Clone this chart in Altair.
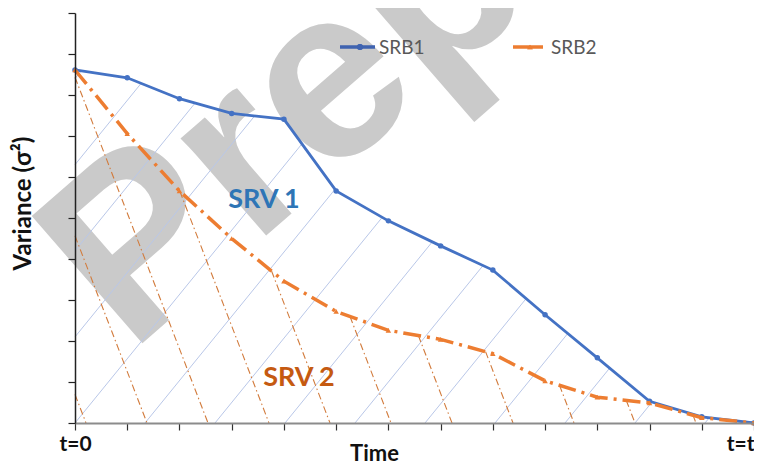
import numpy as np
import pandas as pd
import altair as alt

# ---- data ----
times = list(range(14))
srb1 = [8.61, 8.42, 7.91, 7.55, 7.41, 5.66, 4.93, 4.32, 3.73, 2.64, 1.59, 0.53, 0.15, 0.0]
srb2 = [8.61, 7.06, 5.66, 4.50, 3.46, 2.72, 2.26, 2.04, 1.69, 1.03, 0.63, 0.49, 0.13, 0.0]
series_names = ["SRB1", "SRB2"]
x_labels = {0: "t=0", 13: "t=t"}
region_labels = ["SRV 1", "SRV 2"]
y_title = "Variance (σ²)"
x_title = "Time"
watermark = ["Preprints"]

BLUE = "#4472C4"
ORANGE = "#ED7D31"
FONT = "Lato"

W, H = 679, 410
XMAX, YMAX = 13, 10
pxx = W / XMAX
pxy = H / YMAX

t = np.array(times, dtype=float)
f1 = np.array(srb1)
f2 = np.array(srb2)

# ---- hatch segments derived from the curves ----
def blue_hatch(spacing_px=70.0, slope_px=1.23):
    m = slope_px * pxx / pxy
    s = spacing_px / pxx
    rows = []
    for c in np.arange(-8 * s, XMAX, s):
        x0 = max(c, 0.0)
        y0 = m * (x0 - c)
        if y0 >= np.interp(x0, t, f1):
            continue
        xs = np.linspace(x0, XMAX, 6000)
        d = m * (xs - c) - np.interp(xs, t, f1)
        idx = np.argmax(d >= 0)
        x1 = xs[idx]
        rows.append(dict(x=x0, y=y0, x2=x1, y2=m * (x1 - c)))
    return pd.DataFrame(rows)

def orange_hatch(spacing_px=61.0, slope_px=2.6, first_px=11.0):
    m = slope_px * pxx / pxy
    s = spacing_px / pxx
    rows = []
    for c in np.arange(first_px / pxx, XMAX, s):
        if np.interp(c, t, f2) <= 0.02:
            continue
        xs = np.linspace(c, 0, 6000)
        d = m * (c - xs) - np.interp(xs, t, f2)
        if np.any(d >= 0):
            idx = np.argmax(d >= 0)
            x0 = xs[idx]
        else:
            x0 = 0.0
        rows.append(dict(x=x0, y=m * (c - x0), x2=c, y2=0.0))
    return pd.DataFrame(rows)

hb = blue_hatch()
ho = orange_hatch()

df = pd.DataFrame({"t": times, "SRB1": srb1, "SRB2": srb2})

xscale = alt.Scale(domain=[0, XMAX], nice=False, zero=False)
yscale = alt.Scale(domain=[0, YMAX], nice=False)

label_expr = " : ".join([f"datum.value == {k} ? '{v}'" for k, v in x_labels.items()]) + " : ''"

xaxis = alt.Axis(
    values=times, labelExpr=label_expr, grid=False, tickSize=7, tickColor="#333333",
    domainColor="#8c8c8c", domainWidth=2, tickWidth=1.2, labelFont=FONT, labelFontSize=21,
    labelFontWeight="bold", labelColor="#111111", labelPadding=3,
    labelAlign=alt.expr(f"datum.value == {XMAX} ? 'right' : 'center'"),
    title=x_title, titleFont=FONT, titleFontSize=22, titleFontWeight="bold",
    titleColor="#111111", titleX=299, titleY=30, titleBaseline="middle", titleAlign="center",
    zindex=1,
)
yaxis = alt.Axis(
    values=list(range(YMAX + 1)), labels=False, grid=False, tickSize=7, tickColor="#222222",
    domainColor="#222222", domainWidth=1.5, tickWidth=1.2,
    title=y_title, titleFont=FONT, titleFontSize=24, titleFontWeight="bold",
    titleColor="#111111", titleX=-52, titleY=190, titleAngle=270, titleAlign="center",
    titleBaseline="middle", zindex=1,
)

def X(field):
    return alt.X(field, type="quantitative", scale=xscale, axis=xaxis)

def Y(field):
    return alt.Y(field, type="quantitative", scale=yscale, axis=yaxis)

wm = alt.Chart(pd.DataFrame({"w": watermark})).mark_text(
    font="Liberation Sans", fontSize=245, fontWeight="bold", color="#cacaca", angle=319,
    align="left", baseline="alphabetic",
).encode(x=alt.value(55), y=alt.value(341), text="w:N")

blue_h = alt.Chart(hb).mark_rule(color="#b9c7e8", strokeWidth=1).encode(
    x=X("x"), y=Y("y"), x2="x2", y2="y2")
orange_h = alt.Chart(ho).mark_rule(color="#d27b3c", strokeWidth=1.1, strokeDash=[7, 3, 1.5, 3]).encode(
    x=X("x"), y=Y("y"), x2="x2", y2="y2")

line1 = alt.Chart(df).mark_line(color=BLUE, strokeWidth=2.8).encode(x=X("t"), y=Y("SRB1"))
pts1 = alt.Chart(df).mark_point(color=BLUE, filled=True, size=30, opacity=1, shape="circle").encode(
    x=X("t"), y=Y("SRB1"))
line2 = alt.Chart(df).mark_line(color=ORANGE, strokeWidth=3.5, strokeDash=[18, 6, 3, 6]).encode(
    x=X("t"), y=Y("SRB2"))
pts2 = alt.Chart(df).mark_point(color=ORANGE, filled=True, size=30, opacity=1, shape="triangle-up").encode(
    x=X("t"), y=Y("SRB2"))

# legend (manual)
leg_df = pd.DataFrame({"name": series_names})
leg1_line = alt.Chart(leg_df).mark_rule(color="#3f63b0", strokeWidth=3).encode(
    x=alt.value(265), x2=alt.value(300), y=alt.value(34))
leg1_pt = alt.Chart(leg_df).mark_point(color="#3f63b0", filled=True, size=35, opacity=1).encode(
    x=alt.value(285), y=alt.value(34))
leg2_line = alt.Chart(leg_df).mark_rule(color=ORANGE, strokeWidth=3).encode(
    x=alt.value(438), x2=alt.value(468), y=alt.value(34))
leg2_pt = alt.Chart(leg_df).mark_point(color=ORANGE, filled=True, size=30, opacity=1, shape="triangle-up").encode(
    x=alt.value(455), y=alt.value(34))
leg1_txt = alt.Chart(pd.DataFrame({"n": [series_names[0]]})).mark_text(
    font=FONT, fontSize=19, color="#595959", align="left", baseline="middle").encode(
    x=alt.value(304), y=alt.value(35), text="n:N")
leg2_txt = alt.Chart(pd.DataFrame({"n": [series_names[1]]})).mark_text(
    font=FONT, fontSize=19, color="#595959", align="left", baseline="middle").encode(
    x=alt.value(476), y=alt.value(35), text="n:N")

srv1 = alt.Chart(pd.DataFrame({"n": [region_labels[0]]})).mark_text(
    font=FONT, fontSize=27, fontWeight="bold", color="#2e75b6", align="center", baseline="middle").encode(
    x=alt.value(189), y=alt.value(187), text="n:N")
srv2 = alt.Chart(pd.DataFrame({"n": [region_labels[1]]})).mark_text(
    font=FONT, fontSize=27, fontWeight="bold", color="#c55a11", align="center", baseline="middle").encode(
    x=alt.value(224), y=alt.value(365), text="n:N")

chart = alt.layer(
    wm, blue_h, orange_h, line1, pts1, line2, pts2,
    leg1_line, leg1_pt, leg2_line, leg2_pt, leg1_txt, leg2_txt, srv1, srv2,
).properties(
    width=W, height=H,
    autosize=alt.AutoSizeParams(type="none"),
    padding={"left": 67, "top": 5, "right": 0, "bottom": 43},
).configure_view(strokeWidth=0)

chart.save("out.html", embed_options={"renderer": "svg", "actions": False})
